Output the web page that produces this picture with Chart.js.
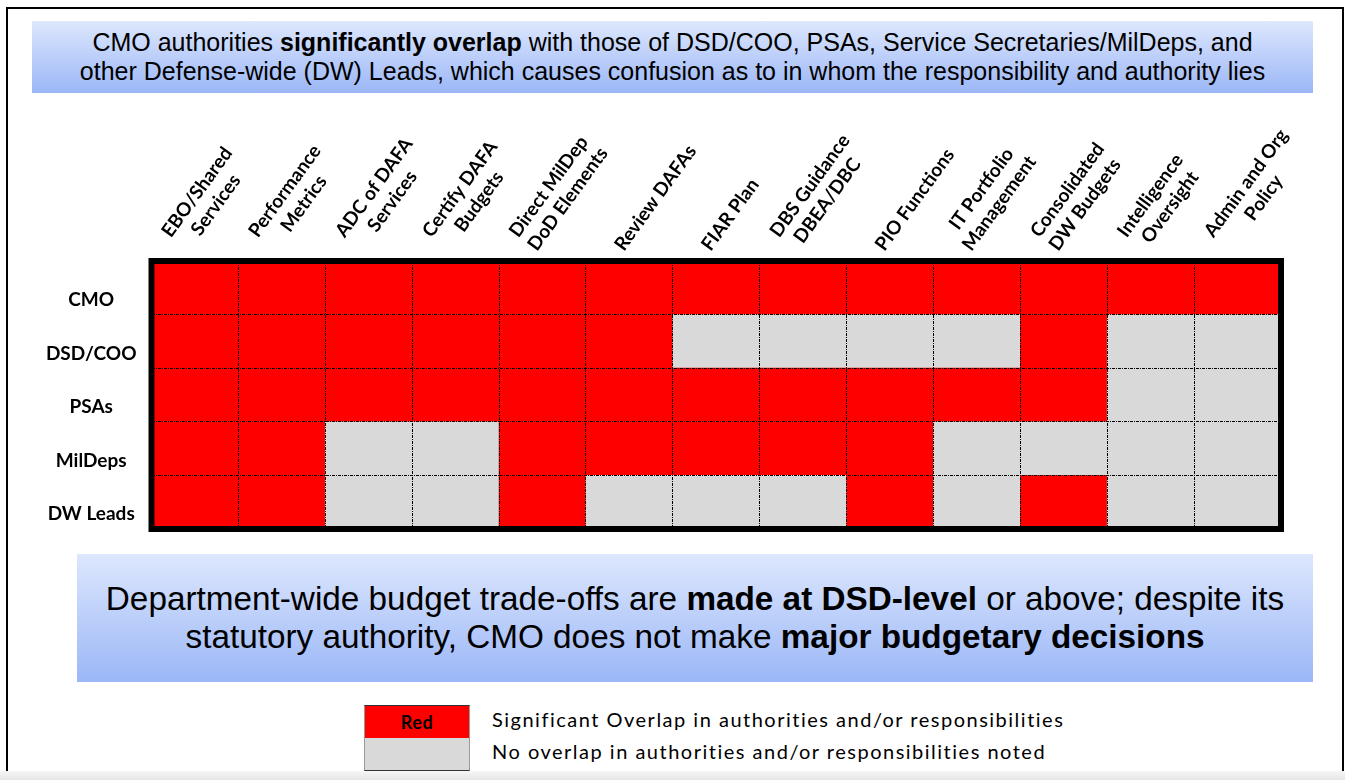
<!DOCTYPE html>
<html>
<head>
<meta charset="utf-8">
<title>CMO authorities overlap</title>
<script src="https://cdn.jsdelivr.net/npm/chart.js@4"></script>
<style>
  body { margin: 0; width: 1345px; height: 780px; position: relative; overflow: hidden; background: #fff;
         font-family: "Liberation Sans", Arial, sans-serif; color: #000; }
  .frame { position: absolute; left: 6px; top: 7px; width: 1338px; height: 790px; border: 2px solid #000; box-sizing: border-box; }
  .shade { position: absolute; left: 0; top: 771px; width: 1345px; height: 9px; background: linear-gradient(#f6f6f6, #e6e6e6); }
  .banner { position: absolute; display: flex; align-items: center; justify-content: center; text-align: center;
            background: linear-gradient(#dde7fd, #9bb7f7); }
  .top { left: 32px; top: 21px; width: 1281px; height: 72px; font-size: 25px; line-height: 29px; }
  .bottom { left: 77px; top: 554px; width: 1236px; height: 128px; font-size: 33.3px; line-height: 38px; }
  #wrap { position: absolute; left: 0; top: 95px; width: 1345px; height: 445px; }
  .sw { position: absolute; left: 364px; width: 106px; box-sizing: border-box; border-left: 1px solid #999; border-right: 1px solid #999; }
  .sw.red { top: 705px; height: 34px; background: #ff0000; border-top: 1px solid #333; border-bottom: 1px solid #333;
            font: bold 18px Lato, sans-serif; letter-spacing: 0.5px; text-align: center; line-height: 32px; }
  .sw.gray { top: 738px; height: 33px; background: #d9d9d9; border-bottom: 1px solid #333; }
  .lt { position: absolute; left: 492px; font: 20px Lato, sans-serif; letter-spacing: 1.5px; white-space: nowrap; }
</style>
</head>
<body>
<div class="frame"></div>
<div class="banner top"><div>CMO authorities <b>significantly overlap</b> with those of DSD/COO, PSAs, Service Secretaries/MilDeps, and<br>other Defense-wide (DW) Leads, which causes confusion as to in whom the responsibility and authority lies</div></div>
<div id="wrap"><canvas id="overlapChart"></canvas></div>
<div class="banner bottom"><div>Department-wide budget trade-offs are <b>made at DSD-level</b> or above; despite its<br>statutory authority, CMO does not make <b>major budgetary decisions</b></div></div>
<div class="sw red">Red</div>
<div class="sw gray"></div>
<div class="lt" style="top:707px">Significant Overlap in authorities and/or responsibilities</div>
<div class="lt" style="top:739px">No overlap in authorities and/or responsibilities noted</div>
<div class="shade"></div>
<script>
// functions along the top
const functions = [
  ['EBO/Shared', 'Services'], ['Performance', 'Metrics'], ['ADC of DAFA', 'Services'],
  ['Certify DAFA', 'Budgets'], ['Direct MilDep', 'DoD Elements'], 'Review DAFAs', 'FIAR Plan',
  ['DBS Guidance', 'DBEA/DBC'], 'PIO Functions', ['IT Portfolio', 'Management'],
  ['Consolidated', 'DW Budgets'], ['Intelligence', 'Oversight'], ['Admin and Org', 'Policy']
];
// organizations, top to bottom
const orgs = ['CMO', 'DSD/COO', 'PSAs', 'MilDeps', 'DW Leads'];

// 1 = significant overlap (red), 0 = no overlap noted (gray)
const cmo     = [1, 1, 1, 1, 1, 1, 1, 1, 1, 1, 1, 1, 1];
const dsdCoo  = [1, 1, 1, 1, 1, 1, 0, 0, 0, 0, 1, 0, 0];
const psas    = [1, 1, 1, 1, 1, 1, 1, 1, 1, 1, 1, 0, 0];
const milDeps = [1, 1, 0, 0, 1, 1, 1, 1, 1, 0, 0, 0, 0];
const dwLeads = [1, 1, 0, 0, 1, 0, 0, 0, 1, 0, 1, 0, 0];

const RED = '#ff0000';
const GRAY = '#d9d9d9';
const matrix = [cmo, dsdCoo, psas, milDeps, dwLeads];
const colFont = { family: 'Lato', weight: 'bold', size: 19 };

// stacked bars, bottom row first; every cell is one unit tall
const datasets = matrix.slice().reverse().map((row, i) => ({
  label: orgs[orgs.length - 1 - i],
  data: row.map(() => 1),
  backgroundColor: row.map(v => v ? RED : GRAY),
  borderWidth: 0,
  barPercentage: 1,
  categoryPercentage: 1
}));

// rotated labels are left aligned by Chart.js, so pad the shorter line to center it
const meas = document.createElement('canvas').getContext('2d');
meas.font = 'bold 19px Lato';
function centerLines(label) {
  if (!Array.isArray(label)) return label;
  const w = label.map(t => meas.measureText(t).width);
  const max = Math.max(...w);
  const sp = meas.measureText(' ').width;
  return label.map((t, i) => ' '.repeat(Math.round((max - w[i]) / 2 / sp)) + t);
}

// thick black box around the grid
const frameBox = {
  id: 'frameBox',
  afterDraw(chart) {
    const { ctx, chartArea: a } = chart;
    ctx.save();
    ctx.lineWidth = 6;
    ctx.strokeStyle = '#000';
    ctx.strokeRect(a.left, a.top, a.right - a.left, a.bottom - a.top);
    ctx.restore();
  }
};

const dash = { display: false, dash: [3, 1, 1, 1] };
const gridOpts = { color: '#000', lineWidth: 1, drawTicks: false, offset: true, z: 1 };

new Chart(document.getElementById('overlapChart'), {
  type: 'bar',
  data: { labels: functions, datasets: datasets },
  options: {
    responsive: true,
    maintainAspectRatio: false,
    animation: false,
    layout: { padding: { top: 0, left: 0, right: 64, bottom: 11 } },
    plugins: { legend: { display: false }, tooltip: { enabled: false } },
    scales: {
      x: {
        position: 'top',
        stacked: true,
        grid: gridOpts,
        border: dash,
        ticks: { minRotation: 54, maxRotation: 54, padding: 6, labelOffset: 8, color: '#000', font: colFont,
                 callback(v) { return centerLines(this.getLabelForValue(v)); } },
        afterFit(s) { s.height = 166; s.paddingLeft = 0; s.paddingRight = 0; }
      },
      y: {
        stacked: true,
        min: 0,
        max: 5,
        grid: gridOpts,
        border: dash,
        afterBuildTicks(s) { s.ticks = [0.5, 1.5, 2.5, 3.5, 4.5].map(v => ({ value: v })); },
        ticks: { crossAlign: 'center', padding: 15, labelOffset: 12, color: '#000',
                 font: { family: 'Lato', weight: 'bold', size: 19 },
                 callback: (v, i) => orgs[orgs.length - 1 - i] },
        afterFit(s) { s.width = 151.5; s.paddingTop = 0; s.paddingBottom = 0; }
      }
    }
  },
  plugins: [frameBox]
});
</script>
</body>
</html>
